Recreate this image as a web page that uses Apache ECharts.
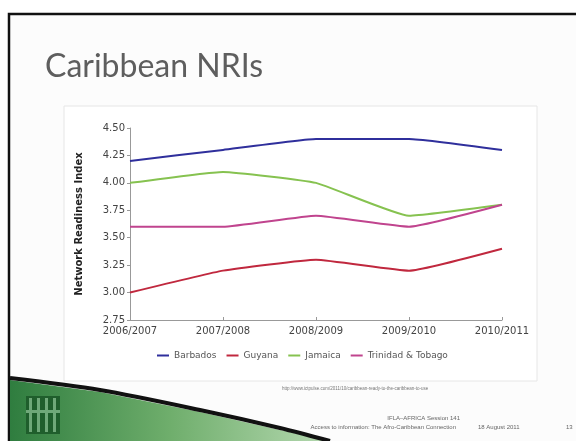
<!DOCTYPE html>
<html><head><meta charset="utf-8">
<script src="https://cdn.jsdelivr.net/npm/echarts@6/dist/echarts.min.js"></script>
<style>html,body{margin:0;padding:0;background:#fff}#c{width:576px;height:441px}</style>
</head><body><div id="c"></div>
<script>
const categories = ['2006/2007','2007/2008','2008/2009','2009/2010','2010/2011'];
const barbados = [4.2, 4.3, 4.4, 4.4, 4.3];
const guyana = [3.0, 3.2, 3.3, 3.2, 3.4];
const jamaica = [4.0, 4.1, 4.0, 3.7, 3.8];
const trinidad = [3.6, 3.6, 3.7, 3.6, 3.8];
const seriesNames = ['Barbados','Guyana','Jamaica','Trinidad & Tobago'];
const colors = ['#2f2f9c','#c0283e','#86c250','#c0448e'];

const chart = echarts.init(document.getElementById('c'));
const mk = (name, data, color, z) => ({
  name, type:'line', data, smooth:0.12, symbol:'none', z,
  lineStyle:{color, width:2}, itemStyle:{color}
});
chart.setOption({
  animation:false,
  backgroundColor:'#fff',
  graphic:[
    {type:'rect', shape:{x:9,y:14,width:575,height:435}, style:{fill:'#fcfcfc', stroke:'#111', lineWidth:2.5}, z:-10},
    {type:'rect', shape:{x:64,y:106,width:473,height:275}, style:{fill:'#fff', stroke:'#e6e6e6', lineWidth:1}, z:-9},
    {type:'polygon', shape:{points:[[10,380],[100,392],[200,412],[280,430],[330,441],[10,441]]},
      style:{fill:{type:'linear',x:0,y:0,x2:1,y2:0,colorStops:[{offset:0,color:'#2f7d3f'},{offset:0.5,color:'#6fae6c'},{offset:1,color:'#b5d8b0'}]}}, z:-5},
    {type:'polyline', shape:{points:[[10,378],[100,390],[200,410],[280,428],[330,441]], smooth:0.3},
      style:{stroke:'#111', lineWidth:4, fill:null}, z:-4},
    {type:'rect', shape:{x:26,y:396,width:34,height:38}, style:{fill:'#1f5e2c'}, z:-3},
    {type:'group', z:-2, children:[0,1,2,3].map(i=>({type:'rect', shape:{x:29+i*8,y:398,width:3,height:34}, style:{fill:'#6fa879'}}))},
    {type:'rect', shape:{x:26,y:410,width:34,height:3}, style:{fill:'#6fa879'}, z:-1},
    {type:'text', x:282, y:386, style:{text:'http://www.ictpulse.com/2011/10/caribbean-ready-to-the-caribbean-to-use', font:'4.5px "Liberation Sans"', fill:'#777'}},
    {type:'text', x:460, y:415, style:{text:'IFLA–AFRICA Session 141', font:'6px "Liberation Sans"', fill:'#666', align:'right'}},
    {type:'text', x:456, y:424, style:{text:'Access to information: The Afro-Caribbean Connection', font:'6px "Liberation Sans"', fill:'#666', align:'right'}},
    {type:'text', x:478, y:424, style:{text:'18 August 2011', font:'6px "Liberation Sans"', fill:'#666'}},
    {type:'text', x:566, y:424, style:{text:'13', font:'6px "Liberation Sans"', fill:'#666'}}
  ],
  title:{text:'Caribbean NRIs', left:40, top:46, textStyle:{fontFamily:'Lato', fontSize:32, fontWeight:'normal', color:'#5e5e5e'}},
  color: colors,
  legend:{data:seriesNames, top:346, icon:'rect', itemWidth:12, itemHeight:2, itemGap:10,
    textStyle:{fontFamily:'DejaVu Sans', fontSize:9, color:'#555'}, left:152},
  grid:{left:130, right:74, top:128, bottom:121},
  xAxis:{type:'category', data:categories, boundaryGap:false,
    axisLine:{lineStyle:{color:'#999'}}, axisTick:{show:true, length:3, inside:true, lineStyle:{color:'#999'}},
    axisLabel:{fontFamily:'DejaVu Sans', fontSize:10, color:'#444', margin:6}},
  yAxis:{type:'value', min:2.75, max:4.5, interval:0.25,
    name:'Network Readiness Index', nameLocation:'middle', nameGap:46, nameRotate:90,
    nameTextStyle:{fontFamily:'DejaVu Sans', fontWeight:'bold', fontSize:10, color:'#222'},
    axisLine:{show:true, lineStyle:{color:'#999'}}, axisTick:{show:true, length:3, lineStyle:{color:'#999'}},
    splitLine:{show:false},
    axisLabel:{fontFamily:'DejaVu Sans', fontSize:10, color:'#444', margin:5, formatter:v=>v.toFixed(2)}},
  series:[
    mk('Barbados', barbados, colors[0], 4),
    mk('Guyana', guyana, colors[1], 3),
    mk('Jamaica', jamaica, colors[2], 2),
    mk('Trinidad & Tobago', trinidad, colors[3], 5)
  ]
});
</script></body></html>
